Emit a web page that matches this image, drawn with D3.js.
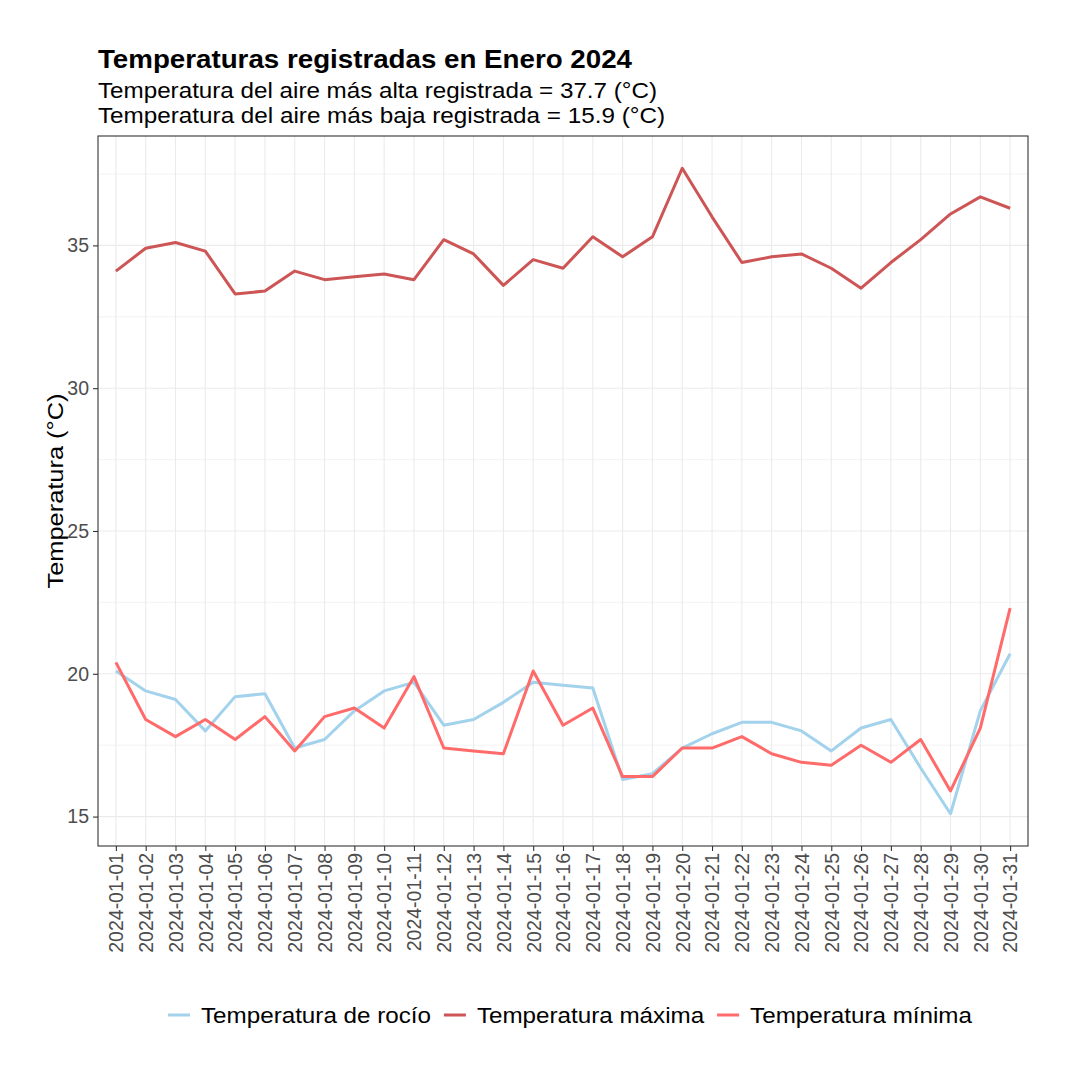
<!DOCTYPE html>
<html>
<head>
<meta charset="utf-8">
<script src="https://cdn.jsdelivr.net/npm/d3@7"></script>
<style>
  body { margin: 0; background: #fff; }
  svg { font-family: "Liberation Sans", Arial, sans-serif; }
</style>
</head>
<body>
<svg id="chart" width="1080" height="1080"></svg>
<script>
// fechas de enero 2024
let fechas = [];
for (let d = 1; d <= 31; d++) fechas.push("2024-01-" + String(d).padStart(2, "0"));

let tempMax = [34.1, 34.9, 35.1, 34.8, 33.3, 33.4, 34.1, 33.8, 33.9, 34.0,
               33.8, 35.2, 34.7, 33.6, 34.5, 34.2, 35.3, 34.6, 35.3, 37.7,
               36.0, 34.4, 34.6, 34.7, 34.2, 33.5, 34.4, 35.2, 36.1, 36.7, 36.3];
let tempMin = [20.4, 18.4, 17.8, 18.4, 17.7, 18.5, 17.3, 18.5, 18.8, 18.1,
               19.9, 17.4, 17.3, 17.2, 20.1, 18.2, 18.8, 16.4, 16.4, 17.4,
               17.4, 17.8, 17.2, 16.9, 16.8, 17.5, 16.9, 17.7, 15.9, 18.1, 22.3];
let tempRocio = [20.1, 19.4, 19.1, 18.0, 19.2, 19.3, 17.4, 17.7, 18.7, 19.4,
                 19.7, 18.2, 18.4, 19.0, 19.7, 19.6, 19.5, 16.3, 16.5, 17.4,
                 17.9, 18.3, 18.3, 18.0, 17.3, 18.1, 18.4, 16.7, 15.1, 18.7, 20.7];
let yTicks = [15, 20, 25, 30, 35];
let yMinor = [17.5, 22.5, 27.5, 32.5, 37.5];

let series = [
    {name: "Temperatura de rocío", values: tempRocio, color: "#A2D2EC"},
    {name: "Temperatura máxima", values: tempMax, color: "#CD5555"},
    {name: "Temperatura mínima", values: tempMin, color: "#FF6A6A"}
];

let svg = d3.select("#chart");
let pLeft = 98, pRight = 1028, pTop = 136, pBottom = 846;

let allVals = tempMax.concat(tempMin, tempRocio);
let lo = d3.min(allVals), hi = d3.max(allVals);
let pad = (hi - lo) * 0.05;

let xScale = d3.scalePoint()
    .domain(fechas)
    .range([pLeft, pRight])
    .padding(0.6);

let yScale = d3.scaleLinear()
    .domain([lo - pad, hi + pad])
    .range([pBottom, pTop]);

// grid
let grid = svg.append("g");
grid.selectAll(".minor").data(yMinor).enter().append("line")
    .attr("x1", pLeft).attr("x2", pRight)
    .attr("y1", d => yScale(d)).attr("y2", d => yScale(d))
    .attr("stroke", "#EBEBEB").attr("stroke-width", 0.6);
grid.selectAll(".major").data(yTicks).enter().append("line")
    .attr("x1", pLeft).attr("x2", pRight)
    .attr("y1", d => yScale(d)).attr("y2", d => yScale(d))
    .attr("stroke", "#EBEBEB").attr("stroke-width", 1.1);
grid.selectAll(".vert").data(fechas).enter().append("line")
    .attr("x1", d => xScale(d)).attr("x2", d => xScale(d))
    .attr("y1", pTop).attr("y2", pBottom)
    .attr("stroke", "#EBEBEB").attr("stroke-width", 1.1);

// lines
let line = d3.line()
    .x((d, i) => xScale(fechas[i]))
    .y(d => yScale(d));

svg.append("g").selectAll("path").data(series).enter().append("path")
    .attr("d", d => line(d.values))
    .attr("fill", "none")
    .attr("stroke", d => d.color)
    .attr("stroke-width", 3)
    .attr("stroke-linejoin", "round");

// border
svg.append("rect")
    .attr("x", pLeft).attr("y", pTop)
    .attr("width", pRight - pLeft).attr("height", pBottom - pTop)
    .attr("fill", "none").attr("stroke", "#333333").attr("stroke-width", 1.1);

// y axis
let yAxis = d3.axisLeft(yScale).tickValues(yTicks).tickSize(5).tickPadding(4);
let yG = svg.append("g").attr("transform", "translate(" + pLeft + ",0)").call(yAxis);
yG.select(".domain").remove();
yG.selectAll("line").attr("stroke", "#333333").attr("stroke-width", 1.1);
yG.selectAll("text").attr("fill", "#4D4D4D").style("font-size", "19.5px")
    .style("font-family", "Liberation Sans, Arial, sans-serif");

// x axis
let xAxis = d3.axisBottom(xScale).tickSize(5);
let xG = svg.append("g").attr("transform", "translate(0," + pBottom + ")").call(xAxis);
xG.select(".domain").remove();
xG.selectAll("line").attr("stroke", "#333333").attr("stroke-width", 1.1);
xG.selectAll("text")
    .attr("fill", "#4D4D4D")
    .style("font-size", "19.5px")
    .style("font-family", "Liberation Sans, Arial, sans-serif")
    .style("text-anchor", "end")
    .attr("x", 0).attr("y", 0)
    .attr("dx", "-7px")
    .attr("dy", "0.35em")
    .attr("transform", "rotate(-90)");

// axis title
svg.append("text")
    .attr("transform", "translate(63," + ((pTop + pBottom) / 2) + ") rotate(-90)")
    .attr("text-anchor", "middle")
    .attr("textLength", 195).attr("lengthAdjust", "spacingAndGlyphs")
    .style("font-size", "22px")
    .text("Temperatura (°C)");

// titles
svg.append("text").attr("x", pLeft).attr("y", 68)
    .attr("textLength", 534).attr("lengthAdjust", "spacingAndGlyphs")
    .style("font-size", "25.5px").style("font-weight", "bold")
    .text("Temperaturas registradas en Enero 2024");
svg.append("text").attr("x", pLeft).attr("y", 98)
    .attr("textLength", 559).attr("lengthAdjust", "spacingAndGlyphs")
    .style("font-size", "22px")
    .text("Temperatura del aire más alta registrada = " + d3.max(tempMax) + " (°C)");
svg.append("text").attr("x", pLeft).attr("y", 123)
    .attr("textLength", 567).attr("lengthAdjust", "spacingAndGlyphs")
    .style("font-size", "22px")
    .text("Temperatura del aire más baja registrada = " + d3.min(tempMin) + " (°C)");

// legend: texts widened like the reference, total span 168..972
let legend = svg.append("g");
let keyW = 22, gapKey = 11, ly = 1015, legStart = 168, legEnd = 972;
let texts = series.map(function(s) {
    return legend.append("text")
        .attr("y", ly).attr("dy", "0.35em")
        .style("font-size", "22px")
        .text(s.name);
});
let natural = texts.map(t => t.node().getComputedTextLength());
let stretch = 230 / natural[0];
let widths = natural.map(w => w * stretch);
let gapItem = (legEnd - legStart - d3.sum(widths) - series.length * (keyW + gapKey)) / (series.length - 1);
let xPos = legStart;
series.forEach(function(s, i) {
    legend.append("line")
        .attr("x1", xPos).attr("x2", xPos + keyW)
        .attr("y1", ly).attr("y2", ly)
        .attr("stroke", s.color).attr("stroke-width", 3);
    texts[i].attr("x", xPos + keyW + gapKey)
        .attr("textLength", widths[i]).attr("lengthAdjust", "spacingAndGlyphs");
    xPos += keyW + gapKey + widths[i] + gapItem;
});
</script>
</body>
</html>
